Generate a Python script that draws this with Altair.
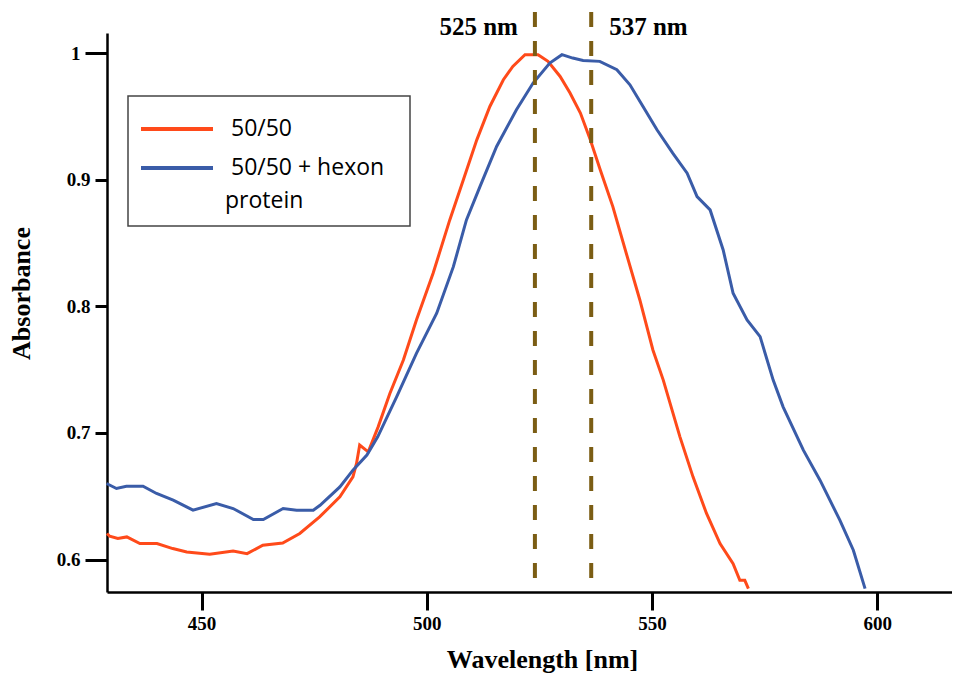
import altair as alt
import pandas as pd

# ---- data ----
red_wl = [429.0, 429.6, 431.4, 433.4, 436.3, 440.1, 443.6, 446.7, 451.8, 457.0, 460.1, 463.6,
          468.0, 471.8, 476.2, 480.7, 483.6, 484.4, 485.1, 487.0, 489.2, 491.8, 494.8, 497.7,
          501.4, 505.1, 508.1, 511.1, 514.0, 517.0, 519.1, 521.8, 524.7, 526.9, 529.6, 531.8,
          534.1, 536.3, 538.5, 541.3, 544.5, 547.3, 550.2, 552.5, 556.2, 559.1, 562.1, 565.1,
          568.0, 569.5, 570.6, 571.4]
red_abs = [0.6206, 0.6184, 0.6166, 0.6179, 0.6126, 0.6126, 0.6087, 0.6060, 0.6042, 0.6068, 0.6047, 0.6113,
           0.6131, 0.6206, 0.6337, 0.6495, 0.6653, 0.6759, 0.6904, 0.6851, 0.7048, 0.7312, 0.7576, 0.7892,
           0.8261, 0.8682, 0.8998, 0.9314, 0.9578, 0.9789, 0.9894, 0.9987, 0.9987, 0.9934, 0.9815, 0.9684,
           0.9526, 0.9315, 0.9078, 0.8787, 0.8392, 0.8050, 0.7655, 0.7417, 0.6969, 0.6653, 0.6364, 0.6126,
           0.5968, 0.5836, 0.5836, 0.5771]

blue_wl = [428.9, 431.1, 433.3, 437.0, 440.0, 443.7, 448.1, 453.3, 457.0, 461.5, 463.7, 468.1,
           471.1, 474.8, 476.3, 480.7, 483.6, 486.7, 489.1, 493.3, 497.7, 502.2, 505.9, 508.8,
           511.8, 515.5, 519.9, 523.6, 527.3, 530.0, 532.4, 534.7, 538.4, 542.2, 545.1, 548.0,
           551.1, 554.6, 557.8, 560.0, 562.9, 565.8, 568.0, 571.1, 574.0, 576.9, 579.1, 583.6,
           587.3, 591.7, 594.7, 597.3]
blue_abs = [0.6601, 0.6561, 0.6579, 0.6579, 0.6522, 0.6469, 0.6390, 0.6443, 0.6403, 0.6316, 0.6316, 0.6403,
            0.6390, 0.6390, 0.6429, 0.6574, 0.6706, 0.6825, 0.6969, 0.7285, 0.7628, 0.7945, 0.8313, 0.8682,
            0.8945, 0.9262, 0.9552, 0.9763, 0.9921, 0.9987, 0.9960, 0.9941, 0.9934, 0.9868, 0.9749, 0.9578,
            0.9394, 0.9209, 0.9051, 0.8866, 0.8761, 0.8445, 0.8103, 0.7892, 0.7760, 0.7417, 0.7206, 0.6864,
            0.6627, 0.6311, 0.6074, 0.5771]

series_names = ["50/50", "50/50 + hexon protein"]
series_colors = ["#ff4a1a", "#3a5ca8"]

marker_wl = [524.0, 536.5]
marker_labels = ["525 nm", "537 nm"]

x_ticks = [450, 500, 550, 600]
y_ticks = [0.6, 0.7, 0.8, 0.9, 1.0]

# ---- tables ----
df = pd.concat([
    pd.DataFrame({"wl": red_wl, "abs": red_abs, "series": series_names[0], "order": range(len(red_wl))}),
    pd.DataFrame({"wl": blue_wl, "abs": blue_abs, "series": series_names[1], "order": range(len(blue_wl))}),
])
mk = pd.DataFrame({"wl": marker_wl, "label": marker_labels})

SERIF = "Liberation Serif"
NB = "\u00a0"
ZW = "\u200b"
xscale = alt.Scale(domain=[429, 616.6], nice=False, zero=False)
yscale = alt.Scale(domain=[0.5744, 1.0158], nice=False, zero=False)

legend_label_expr = (
    f"datum.label == '50/50 + hexon protein' ? ['{ZW}{NB}50/50 + hexon{NB}{NB}{ZW}', 'protein']"
    f" : '{ZW}{NB}' + datum.label"
)

lines = alt.Chart(df).mark_line(strokeWidth=3).encode(
    x=alt.X("wl:Q", scale=xscale,
            axis=alt.Axis(title="Wavelength [nm]", values=x_ticks, format="d",
                          tickSize=18, tickWidth=3, labelPadding=4,
                          titlePadding=13, titleX=435)),
    y=alt.Y("abs:Q", scale=yscale,
            axis=alt.Axis(title="Absorbance", values=y_ticks, format="~g",
                          tickSize={"condition": {"test": "datum.value == 1 || datum.value == 0.6", "value": 22}, "value": 12},
                          tickWidth=3, labelPadding=5, titlePadding=22, titleY=260)),
    color=alt.Color("series:N", scale=alt.Scale(domain=series_names, range=series_colors),
                    legend=alt.Legend(title=None, orient="none", legendX=21, legendY=63,
                                      symbolType="M-2,0H2", symbolSize=1296, symbolStrokeWidth=4,
                                      symbolOffset=16, labelOffset=28, rowPadding=7,
                                      labelExpr=legend_label_expr)),
    order="order:Q",
)

rules = alt.Chart(mk).mark_rule(color="#7b5d14", strokeWidth=4, strokeDash=[15, 14]).encode(
    x=alt.X("wl:Q", scale=xscale),
    y=alt.value(-21),
    y2=alt.value(559),
)

lab_left = alt.Chart(mk).transform_filter(alt.datum.label == marker_labels[0]).mark_text(
    align="right", baseline="middle", dx=-17, font=SERIF, fontWeight="bold", fontSize=25, color="black"
).encode(x=alt.X("wl:Q", scale=xscale), y=alt.value(-6), text="label:N")

lab_right = alt.Chart(mk).transform_filter(alt.datum.label == marker_labels[1]).mark_text(
    align="left", baseline="middle", dx=18, font=SERIF, fontWeight="bold", fontSize=25, color="black"
).encode(x=alt.X("wl:Q", scale=xscale), y=alt.value(-6), text="label:N")

chart = alt.layer(lines, rules, lab_left, lab_right).properties(
    width=845, height=559,
    autosize=alt.AutoSizeParams(type="none"),
    padding={"left": 99, "top": 25, "right": 0, "bottom": 86},
).configure(
    style={"guide-label": {"lineHeight": 33}},
).configure_view(stroke=None).configure_axis(
    domainColor="black", domainWidth=2.5, tickColor="black", grid=False,
    labelFont=SERIF, labelFontWeight="bold", labelFontSize=19, labelColor="black",
    titleFont=SERIF, titleFontWeight="bold", titleFontSize=26, titleColor="black",
).configure_legend(
    strokeColor="#444444", strokeWidth=1.5, fillColor="white", padding=13,
    labelFont="Open Sans", labelFontSize=23, labelColor="black",
    labelLimit=400, cornerRadius=0,
)

chart.save("out.html", embed_options={"renderer": "svg", "actions": False})
